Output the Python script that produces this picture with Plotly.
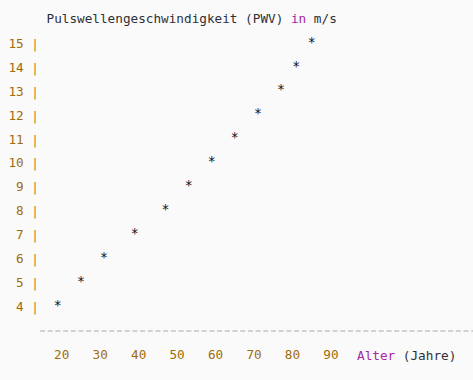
import plotly.graph_objects as go

# Data
ages = [19, 25, 31, 39, 47, 53, 59, 65, 71, 77, 81, 85]
pwv = [4, 5, 6, 7, 8, 9, 10, 11, 12, 13, 14, 15]
x_ticks = [20, 30, 40, 50, 60, 70, 80, 90]
y_ticks = [4, 5, 6, 7, 8, 9, 10, 11, 12, 13, 14, 15]

FONT = "DejaVu Sans Mono"
FS = 12.7
NUM = "#a06c08"
BAR = "#cc7f10"
KW = "#a626a4"
TXT = "#2e3038"
BG = "#fafafa"

fig = go.Figure()
fig.add_trace(go.Scatter(
    x=ages, y=pwv, mode="text", text=["*"] * len(ages),
    textposition="middle center",
    textfont=dict(family=FONT, size=FS + 0.5, color="#101018"),
    hoverinfo="skip", showlegend=False,
))

fig.update_layout(
    width=473, height=380,
    margin=dict(l=40, r=0, t=30, b=49),
    paper_bgcolor=BG, plot_bgcolor=BG,
    font=dict(family=FONT, size=FS, color=TXT),
    title=dict(
        text=f"Pulswellengeschwindigkeit (PWV) <span style='color:{KW}'>in</span> m/s",
        xref="container", yref="container", x=46.5 / 473, xanchor="left",
        y=1 - 18.5 / 380, yanchor="middle",
        font=dict(family=FONT, size=FS, color=TXT),
    ),
    xaxis=dict(
        range=[14.359, 126.92], showgrid=False, zeroline=False, showline=False,
        tickmode="array", tickvals=x_ticks, ticktext=[str(v) for v in x_ticks],
        tickfont=dict(family=FONT, size=FS, color=NUM), ticks="",
        ticklabelstandoff=14, fixedrange=True,
    ),
    yaxis=dict(
        range=[2.985, 15.555], showgrid=False, zeroline=False, showline=False,
        tickmode="array", tickvals=y_ticks,
        ticktext=[f"{v} <span style='color:{BAR}'>|</span>" for v in y_ticks],
        tickfont=dict(family=FONT, size=FS, color=NUM), ticks="",
        ticklabelstandoff=0, fixedrange=True,
    ),
    shapes=[dict(
        type="line", xref="paper", yref="paper", x0=0, x1=1, y0=0, y1=0,
        line=dict(color="#a8a8ad", width=1, dash="5px,2.7px"),
    )],
    annotations=[dict(
        text=f"<span style='color:{KW}'>Alter</span> (Jahre)",
        xref="paper", yref="paper", x=(355 - 40) / 433, y=0,
        xanchor="left", yanchor="middle", yshift=-24, showarrow=False,
        font=dict(family=FONT, size=FS, color=TXT),
    )],
)

fig.write_html("out.html", config={"displayModeBar": False})
